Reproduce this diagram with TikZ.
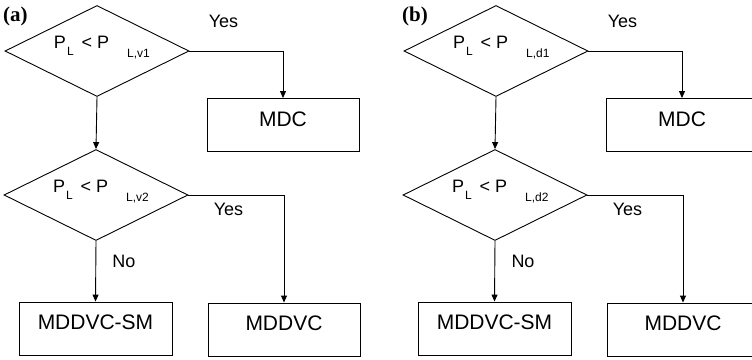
\documentclass[tikz,border=0pt]{standalone}
\usepackage{fontspec}
\setmainfont{Liberation Sans}
\newfontfamily\panelfont{Liberation Serif}
\usetikzlibrary{shapes.geometric,arrows.meta}

% small lowered index, as written beside P
\newcommand{\sublbl}[2][-8pt]{\raisebox{#1}{\fontsize{12}{12}\selectfont #2}}
% the inequality inside a test diamond
\newcommand{\ineq}[1]{\makebox[112pt][l]{\hspace{13pt}P\hspace{1pt}\sublbl[-7pt]{L}\hspace{8pt}<\hspace{5pt}P\hspace{18pt}\sublbl[-9pt]{L,#1}}}

\begin{document}
\begin{tikzpicture}[x=1pt,y=-1pt]
        \tikzstyle{every node}+=[inner sep=0pt]
        \tikzstyle{test}=[draw,diamond,aspect=2,minimum width=184pt,minimum height=91pt,
            text height=13pt,text depth=19pt,font=\fontsize{18}{18}\selectfont]
        \tikzstyle{mode}=[draw,rectangle,minimum width=152pt,minimum height=53pt,
            text height=15pt,text depth=13pt,font=\fontsize{21}{21}\selectfont]
        \tikzstyle{answer}=[font=\fontsize{18}{18}\selectfont]
        \tikzstyle{flow}=[-{Triangle[length=7pt,width=6pt]},line width=0.9pt]
        \useasboundingbox (0,0) rectangle (752,359);
        \clip (0,0) rectangle (752,359);
        \foreach \p/\s/\dx in {a/v/0,b/d/399} {
        \begin{scope}[xshift=\dx]
        \node[anchor=base west,font=\panelfont\bfseries\fontsize{21}{21}\selectfont] (\p-tag) at (3,21) {(\p)};
        % first threshold test and its outcome
        \node[test,line width=0.9pt] (\p-q1) at (97,51) {\ineq{\s1}};
        \node[mode,line width=0.9pt] (\p-mdc) at (283,125) {MDC};
        % second threshold test
        \node[test,line width=0.9pt] (\p-q2) at (96,195) {\ineq{\s2}};
        \node[mode,line width=0.9pt,minimum width=153pt] (\p-sm) at (95.5,328.5) {MDDVC-SM};
        \node[mode,line width=0.9pt] (\p-dvc) at (284,329.5) {MDDVC};
        \draw [flow] (\p-q1.east) -| (\p-mdc.north);
        \draw [flow] (\p-q1.south) -- (\p-q2.north);
        \draw [flow] (\p-q2.east) -| (\p-dvc.north);
        \draw [flow] (\p-q2.south) -- (\p-sm.north);
        \node[answer] (\p-yes1) at (223.5,21.5) {Yes};
        \node[answer] (\p-yes2) at (228.5,209.5) {Yes};
        \node[answer] (\p-no) at (124,261.5) {No};
        \end{scope}
        }
\end{tikzpicture}
\end{document}
